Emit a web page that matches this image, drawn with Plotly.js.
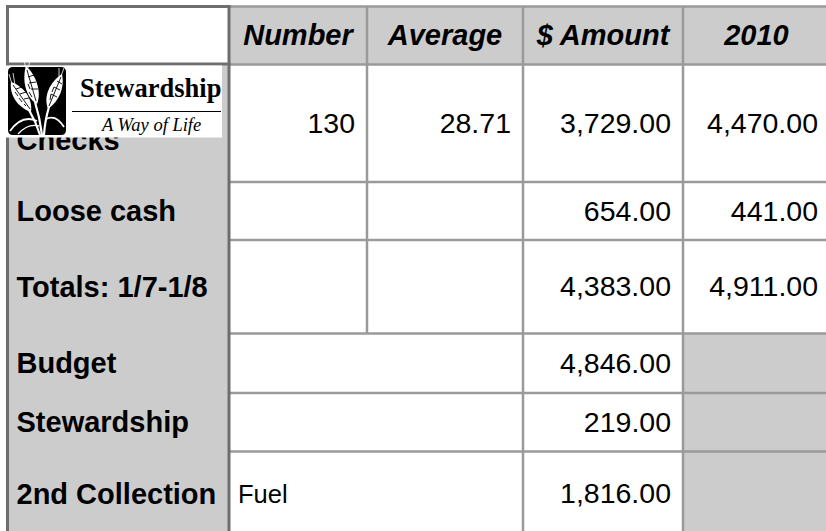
<!DOCTYPE html>
<html><head><meta charset="utf-8">
<script src="https://cdn.plot.ly/plotly-3.0.1.min.js"></script>
<style>html,body{margin:0;padding:0;background:#fff;overflow:hidden;} #chart{width:826px;height:531px;}</style>
</head><body><div id="chart"></div>
<script>
// ---------------- DATA ----------------
const headers   = ['Number', 'Average', '$ Amount', '2010'];
const rowLabels = ['Checks', 'Loose cash', 'Totals: 1/7-1/8', 'Budget', 'Stewardship', '2nd Collection'];
const numberCol = ['130', '', '', '', '', ''];
const averageCol= ['28.71', '', '', '', '', ''];
const amountCol = ['3,729.00', '654.00', '4,383.00', '4,846.00', '219.00', '1,816.00'];
const col2010   = ['4,470.00', '441.00', '4,911.00', '', '', ''];
const mergedNote= ['', '', '', '', '', 'Fuel'];   // text of the merged Number+Average cell
const logoTitle = 'Stewardship';
const logoSub   = 'A Way of Life';

// ---------------- LAYOUT GEOMETRY (pixel axes) ----------------
const W = 826, H = 531;
const colEdges = [7.5, 229, 367, 523, 683, 830];
const rowEdges = [6.5, 64.5, 182, 240, 333.5, 393, 451.5, 536];
const firstMerged = 3;          // rows from here on merge Number+Average, grey 2010 cell
const GREY = '#cccccc', LIGHT = '#9a9a9a', DARK = '#6e6e6e';
const FONT = 'Liberation Sans, Arial, sans-serif';
const SERIF = 'Liberation Serif, Times New Roman, serif';
const padR = 12, padL = 9, textDy = 2.5;
const labelDy = [17, 0, 0, 0, 0, 0];

const shapes = [];
function rect(x0, x1, y0, y1, fill, layer) {
  shapes.push({type:'rect', xref:'x', yref:'y', x0, x1, y0, y1, fillcolor: fill, line:{width:0}, layer: layer||'below'});
}
function line(x0, y0, x1, y1, color, w, layer) {
  shapes.push({type:'line', xref:'x', yref:'y', x0, y0, x1, y1, line:{color, width:w}, layer: layer||'below'});
}
function path(p, fill, stroke, w) {
  shapes.push({type:'path', layer:'above', xref:'x', yref:'y', path:p,
    fillcolor: fill || 'rgba(0,0,0,0)', line: stroke ? {color: stroke, width: w} : {width: 0}});
}
const nRows = rowLabels.length;
const rc = i => (rowEdges[i+1] + rowEdges[i+2]) / 2;     // row centre for data row i
const cc = j => (colEdges[j] + colEdges[j+1]) / 2;
const bottom = 545;

// backgrounds
rect(colEdges[0], colEdges[1], rowEdges[0], rowEdges[1], '#ffffff');
rect(colEdges[1], colEdges[5], rowEdges[0], rowEdges[1], GREY);
rect(colEdges[0], colEdges[1], rowEdges[1], bottom, GREY);
for (let i = 0; i < nRows; i++) {
  const yb = i === nRows - 1 ? bottom : rowEdges[i+2];
  rect(colEdges[1], colEdges[4], rowEdges[i+1], yb, '#ffffff');
  rect(colEdges[4], colEdges[5], rowEdges[i+1], yb, i >= firstMerged ? GREY : '#ffffff');
}
// light grid lines
line(colEdges[1], rowEdges[0], colEdges[5], rowEdges[0], LIGHT, 2.5);
for (let r = 1; r <= nRows; r++) line(colEdges[1], rowEdges[r], colEdges[5], rowEdges[r], LIGHT, 2.5);
line(colEdges[2], rowEdges[0], colEdges[2], rowEdges[firstMerged+1], LIGHT, 2.5);
line(colEdges[3], rowEdges[0], colEdges[3], bottom, LIGHT, 2.5);
line(colEdges[4], rowEdges[0], colEdges[4], bottom, LIGHT, 2.5);
// dark outer lines
line(colEdges[0], rowEdges[0]-1.5, colEdges[0], bottom, DARK, 3);
line(colEdges[0]-1.5, rowEdges[0], colEdges[1]+1.5, rowEdges[0], DARK, 3);
line(colEdges[0]-1.5, rowEdges[1]-0.5, colEdges[1]+1.5, rowEdges[1]-0.5, DARK, 3);
line(colEdges[1], rowEdges[0]-1.5, colEdges[1], bottom, DARK, 3);

// ---------------- TEXT TRACES ----------------
const traces = [];
const ys = rowLabels.map((_, i) => rc(i) + textDy);
function textTrace(xs, yy, texts, pos, size) {
  traces.push({type:'scatter', mode:'text', x: xs, y: yy, text: texts,
    textposition: pos, textfont:{family: FONT, size: size, color:'#000000'}, hoverinfo:'skip', cliponaxis:false});
}
// header
textTrace(headers.map((_, j) => cc(j+1)), headers.map(() => (rowEdges[0]+rowEdges[1])/2 + textDy),
  headers.map(h => '<b><i>' + h + '</i></b>'), 'middle center', 29);
// row labels
textTrace(rowLabels.map(() => colEdges[0] + padL), ys.map((y, i) => y + labelDy[i]),
  rowLabels.map(t => '<b>' + t + '</b>'), 'middle right', 29);
// numeric columns
[numberCol, averageCol, amountCol, col2010].forEach((col, j) => {
  textTrace(col.map(() => colEdges[j+2] - padR), ys, col, 'middle left', 28.5);
});
// merged note cell
textTrace(mergedNote.map(() => colEdges[1] + padL), ys, mergedNote, 'middle right', 25.5);

// ---------------- LOGO (decoration, covers top of first column) ----------------
rect(6, 222, 65.5, 137.5, '#ffffff', 'above');
path('M 13 67 L 61 67 Q 66 67 66 72 L 66 130 Q 66 135 61 135 L 13 135 Q 8 135 8 130 L 8 72 Q 8 67 13 67 Z', '#000000');
// stems and leaves
path('M 29 110 Q 36 122 40 135', null, '#ffffff', 2.2);
path('M 35 102 Q 40 118 42 135', null, '#ffffff', 2.2);
path('M 49 107 Q 45 120 44 135', null, '#ffffff', 2.2);
path('M 10 131 Q 22 114 37 121', null, '#ffffff', 1.8);
path('M 64 127 Q 56 114 46 119', null, '#ffffff', 1.8);
path('M 18 134 Q 28 123 39 126', null, '#ffffff', 1.4);
// ears
path('M 31 112 C 19 108 9 96 11 82 C 23 86 33 98 31 112 Z', '#ffffff');
path('M 37 104 C 25 97 22 79 26 66 C 36 75 42 92 37 104 Z', '#ffffff');
path('M 48 109 C 43 96 50 82 62 74 C 65 88 59 101 48 109 Z', '#ffffff');
// grain texture
path('M 30 109 L 13 85 M 16 89 L 22 87 M 20 94 L 26 92 M 24 99 L 29 98 M 15 92 L 18 96 M 19 98 L 22 102 M 24 104 L 26 106',
  null, '#000000', 0.9);
path('M 36 101 L 27 70 M 28 77 L 34 75 M 29 83 L 36 82 M 31 89 L 38 89 M 28 84 L 30 89 M 29 92 L 32 97',
  null, '#000000', 0.9);
path('M 49 106 L 61 77 M 57 81 L 62 84 M 54 87 L 60 90 M 51 94 L 57 97 M 54 87 L 52 92 M 51 94 L 50 100',
  null, '#000000', 0.9);
// awns
path('M 12 84 L 9 74 M 15 85 L 13 73 M 26 68 L 24 61 M 28 68 L 30 61 M 61 76 L 64 68 M 59 77 L 59 68',
  null, '#ffffff', 0.8);
line(72, 111.5, 221, 111.5, '#000000', 1, 'above');

const annotations = [
  {x: 78, y: 87.5, xref:'x', yref:'y', text:'<b>' + logoTitle + '</b>', showarrow:false,
   xanchor:'left', yanchor:'middle', font:{family: SERIF, size: 26.5, color:'#000'}},
  {x: 98, y: 124.5, xref:'x', yref:'y', text:'<i>' + logoSub + '</i>', showarrow:false,
   xanchor:'left', yanchor:'middle', font:{family: SERIF, size: 18.5, color:'#000'}}
];

const layout = {
  width: W, height: H, margin:{l:0, r:0, t:0, b:0}, paper_bgcolor:'#ffffff', plot_bgcolor:'#ffffff',
  showlegend:false, hovermode:false,
  xaxis:{range:[0, W], visible:false, fixedrange:true},
  yaxis:{range:[H, 0], visible:false, fixedrange:true},
  shapes, annotations
};
Plotly.newPlot('chart', traces, layout, {staticPlot:true, displayModeBar:false});
</script></body></html>
